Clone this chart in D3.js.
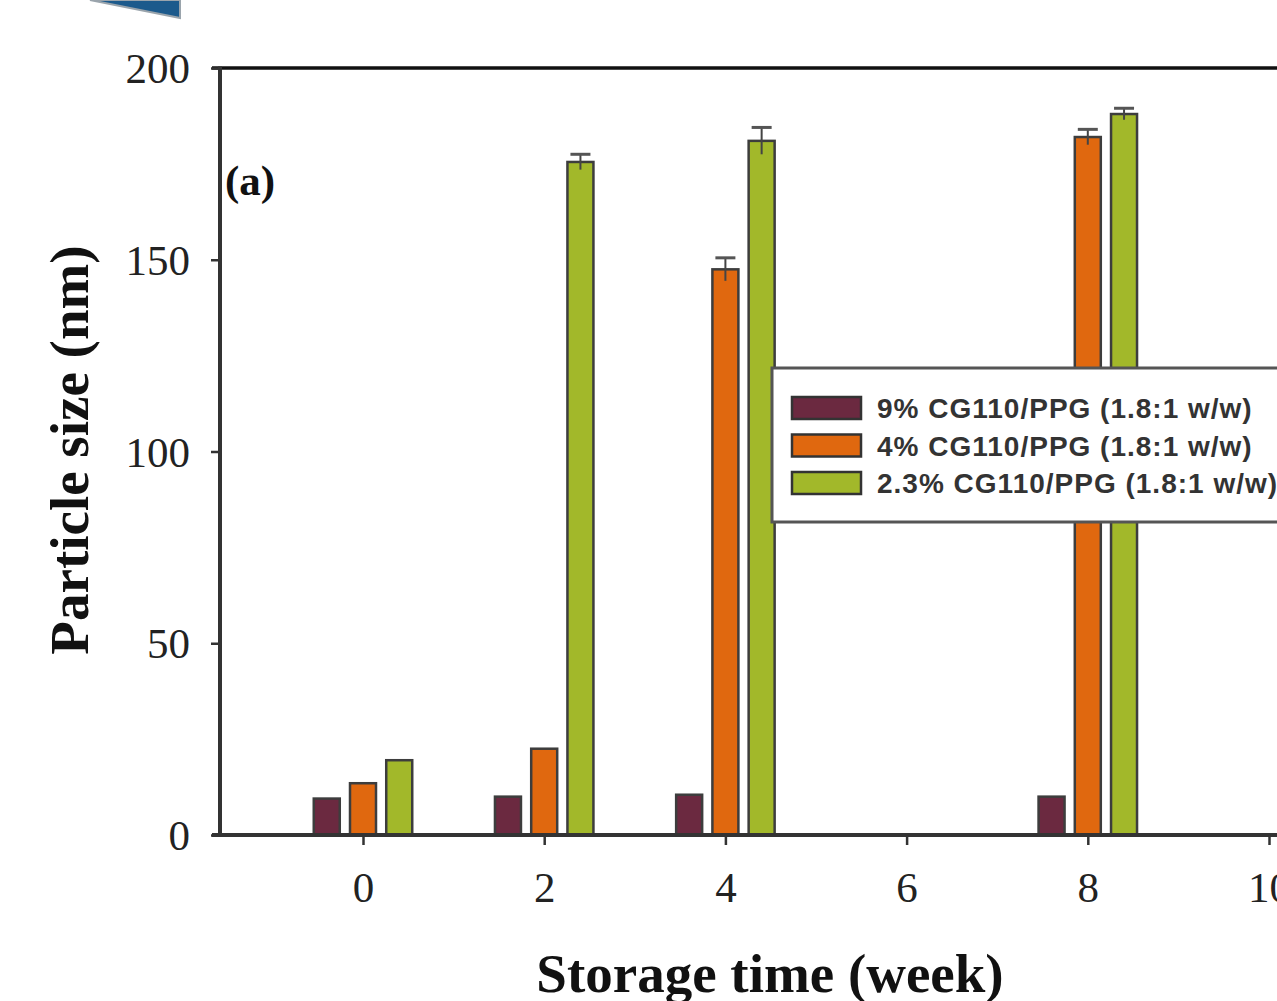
<!DOCTYPE html>
<html>
<head>
<meta charset="utf-8">
<script src="https://cdn.jsdelivr.net/npm/d3@7"></script>
<style>
  html, body { margin: 0; padding: 0; background: #fff; overflow: hidden; }
  svg { display: block; }
</style>
</head>
<body>
<div id="chart"></div>
<script>
const width = 1277;
const height = 1001;

// Data
const weeks = [0, 2, 4, 8];
const seriesNames = ["9% CG110/PPG (1.8:1 w/w)", "4% CG110/PPG (1.8:1 w/w)", "2.3% CG110/PPG (1.8:1 w/w)"];
const seriesColors = ["#6b2940", "#e0680f", "#a2b82a"];
const size9 = [9.5, 10, 10.5, 10];
const size4 = [13.5, 22.5, 147.5, 182];
const size23 = [19.5, 175.5, 181, 188];
const err9 = [0, 0, 0, 0];
const err4 = [0, 0, 3, 2];
const err23 = [0, 2, 3.5, 1.5];
const xTicks = [0, 2, 4, 6, 8, 10];
const yTicks = [0, 50, 100, 150, 200];

const values = [size9, size4, size23];
const errors = [err9, err4, err23];

const serif = "'Liberation Serif', 'Times New Roman', serif";

const svg = d3.select("#chart")
    .append("svg")
    .attr("width", width)
    .attr("height", height);

// Scales
const x = d3.scaleLinear().domain([0, 10]).range([363, 1269]);
const y = d3.scaleLinear().domain([0, 200]).range([835, 68]);
const offset = d3.scaleLinear().domain([0, 1]).range([0, x(0.4) - x(0)]);
const barW = 26;

// Bit of the neighbouring figure at the top-left
svg.append("polygon")
    .attr("points", "90,0 180,0 180,18")
    .attr("fill", "#1c5a8c")
    .attr("stroke", "#9aa4ac")
    .attr("stroke-width", 2);

// Bars
const bars = [];
values.forEach((vals, s) => {
    vals.forEach((v, i) => {
        bars.push({ s, week: weeks[i], v, e: errors[s][i] });
    });
});

svg.selectAll("rect.bar")
    .data(bars)
    .enter()
    .append("rect")
    .attr("class", "bar")
    .attr("x", d => x(d.week) + offset(d.s - 1) - barW / 2)
    .attr("y", d => y(d.v))
    .attr("width", barW)
    .attr("height", d => y(0) - y(d.v))
    .attr("fill", d => seriesColors[d.s])
    .attr("stroke", "#3d3d3d")
    .attr("stroke-width", 2.5);

// Error bars (upper half only, lower sits inside the bar)
const errBars = bars.filter(d => d.e > 0);
svg.selectAll("line.err")
    .data(errBars)
    .enter()
    .append("line")
    .attr("x1", d => x(d.week) + offset(d.s - 1))
    .attr("x2", d => x(d.week) + offset(d.s - 1))
    .attr("y1", d => y(d.v - d.e))
    .attr("y2", d => y(d.v + d.e))
    .attr("stroke", "#444")
    .attr("stroke-width", 2);
svg.selectAll("line.cap")
    .data(errBars)
    .enter()
    .append("line")
    .attr("x1", d => x(d.week) + offset(d.s - 1) - 10)
    .attr("x2", d => x(d.week) + offset(d.s - 1) + 10)
    .attr("y1", d => y(d.v + d.e))
    .attr("y2", d => y(d.v + d.e))
    .attr("stroke", "#555")
    .attr("stroke-width", 3);

// Frame lines
svg.append("line")
    .attr("x1", 212).attr("x2", width)
    .attr("y1", y(200)).attr("y2", y(200))
    .attr("stroke", "#111").attr("stroke-width", 3.5);
svg.append("line")
    .attr("x1", 212).attr("x2", width)
    .attr("y1", y(0)).attr("y2", y(0))
    .attr("stroke", "#333").attr("stroke-width", 4);
svg.append("line")
    .attr("x1", 220).attr("x2", 220)
    .attr("y1", y(200) - 1.5).attr("y2", y(0) + 2)
    .attr("stroke", "#333").attr("stroke-width", 4);

// Y axis
const yAxis = svg.append("g")
    .attr("transform", "translate(220,0)")
    .call(d3.axisLeft(y).tickValues(yTicks).tickSize(9).tickPadding(21));
yAxis.select(".domain").remove();
yAxis.selectAll(".tick line").attr("stroke", "#333").attr("stroke-width", 2.5);
yAxis.selectAll(".tick text")
    .attr("fill", "#222")
    .style("font-family", serif)
    .style("font-size", "43px")
    .attr("dy", "0.34em");

// X axis
const xAxis = svg.append("g")
    .attr("transform", `translate(0,${y(0)})`)
    .call(d3.axisBottom(x).tickValues(xTicks).tickSize(10).tickPadding(26));
xAxis.select(".domain").remove();
xAxis.selectAll(".tick line").attr("stroke", "#333").attr("stroke-width", 2.5);
xAxis.selectAll(".tick text")
    .attr("fill", "#222")
    .style("font-family", serif)
    .style("font-size", "43px");

// Axis titles
svg.append("text")
    .attr("transform", "translate(88,450) rotate(-90)")
    .attr("text-anchor", "middle")
    .style("font-family", serif)
    .style("font-size", "55px")
    .style("font-weight", "bold")
    .attr("fill", "#111")
    .text("Particle size (nm)");

svg.append("text")
    .attr("x", 770)
    .attr("y", 992)
    .attr("text-anchor", "middle")
    .style("font-family", serif)
    .style("font-size", "55px")
    .style("font-weight", "bold")
    .attr("fill", "#111")
    .text("Storage time (week)");

// Panel label
svg.append("text")
    .attr("x", 225)
    .attr("y", 195)
    .style("font-family", serif)
    .style("font-size", "43px")
    .style("font-weight", "bold")
    .attr("fill", "#111")
    .text("(a)");

// Legend
const legend = svg.append("g");
legend.append("rect")
    .attr("x", 772).attr("y", 368)
    .attr("width", 540).attr("height", 154)
    .attr("fill", "#fff")
    .attr("stroke", "#555")
    .attr("stroke-width", 3);

const items = legend.selectAll("g.item")
    .data(seriesNames)
    .enter()
    .append("g")
    .attr("transform", (d, i) => `translate(0,${408 + i * 37.5})`);
items.append("rect")
    .attr("x", 792).attr("y", -11)
    .attr("width", 69).attr("height", 22)
    .attr("fill", (d, i) => seriesColors[i])
    .attr("stroke", "#333")
    .attr("stroke-width", 2.5);
items.append("text")
    .attr("x", 877)
    .attr("y", 0)
    .attr("dy", "0.36em")
    .style("font-family", "'Liberation Sans', Arial, sans-serif")
    .style("font-size", "28px")
    .style("font-weight", "bold")
    .style("letter-spacing", "1px")
    .attr("fill", "#333")
    .text(d => d);
</script>
</body>
</html>
